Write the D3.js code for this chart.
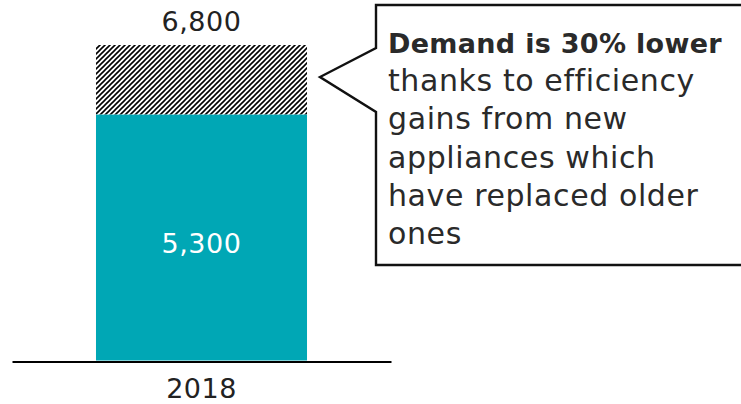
<!DOCTYPE html>
<html>
<head>
<meta charset="utf-8">
<script src="https://cdn.jsdelivr.net/npm/d3@7"></script>
<style>
  html, body { margin: 0; padding: 0; background: #fff; }
  svg { display: block; }
  text { font-family: "DejaVu Sans", sans-serif; fill: #222; }
</style>
</head>
<body>
<svg id="chart" width="741" height="404"></svg>
<script>
// Residential demand, 2018
const years = ["2018"];
const demandActual = [5300];        // demand with efficient appliances
const demandWithoutGains = [6800];  // demand had older appliances remained
const valueLabels = ["5,300"];
const totalLabels = ["6,800"];
const calloutBold = "Demand is 30% lower";
const calloutLines = ["thanks to efficiency", "gains from new", "appliances which", "have replaced older", "ones"];

const W = 741, H = 404;
const teal = "#00A7B5";
const svg = d3.select("#chart");

// Diagonal hatch for the avoided demand
const defs = svg.append("defs");
const pat = defs.append("pattern")
  .attr("id", "hatch")
  .attr("patternUnits", "userSpaceOnUse")
  .attr("width", 5).attr("height", 5);
pat.append("path")
  .attr("d", "M-1,1 L1,-1 M0,5 L5,0 M4,6 L6,4")
  .attr("stroke", "#000")
  .attr("stroke-width", 1.6);

const x = d3.scaleBand()
  .domain(years)
  .range([12, 391])
  .paddingInner(0)
  .paddingOuter(0.398);

const y = d3.scaleLinear()
  .domain([0, 6800])
  .range([360.5, 45]);

const rows = years.map((yr, i) => ({
  year: yr,
  actual: demandActual[i],
  total: demandWithoutGains[i],
  label: valueLabels[i],
  totalLabel: totalLabels[i]
}));

// Hatched portion: from actual up to the no-efficiency total
svg.selectAll("rect.gap")
  .data(rows).join("rect")
  .attr("class", "gap")
  .attr("x", d => x(d.year))
  .attr("width", x.bandwidth())
  .attr("y", d => y(d.total))
  .attr("height", d => y(d.actual) - y(d.total))
  .attr("fill", "url(#hatch)");

// Solid portion: actual demand
svg.selectAll("rect.actual")
  .data(rows).join("rect")
  .attr("class", "actual")
  .attr("x", d => x(d.year))
  .attr("width", x.bandwidth())
  .attr("y", d => y(d.actual))
  .attr("height", d => y(0) - y(d.actual))
  .attr("fill", teal);

// Value labels
svg.selectAll("text.inner")
  .data(rows).join("text")
  .attr("class", "inner")
  .attr("x", d => x(d.year) + x.bandwidth() / 2)
  .attr("y", d => (y(d.actual) + y(0)) / 2 + 15)
  .attr("text-anchor", "middle")
  .style("font-size", "27px")
  .style("letter-spacing", "0.5px")
  .style("fill", "#fff")
  .text(d => d.label);

svg.selectAll("text.total")
  .data(rows).join("text")
  .attr("class", "total")
  .attr("x", d => x(d.year) + x.bandwidth() / 2)
  .attr("y", 31)
  .attr("text-anchor", "middle")
  .style("font-size", "27px")
  .style("letter-spacing", "0.5px")
  .text(d => d.totalLabel);

// Category axis
const axis = svg.append("g")
  .attr("transform", `translate(0,${y(0) + 1})`)
  .call(d3.axisBottom(x).tickSize(0).tickSizeOuter(0).tickPadding(16));
axis.select(".domain").attr("stroke", "#000").attr("stroke-width", 2.2);
axis.selectAll(".tick text")
  .style("font-size", "27px")
  .style("letter-spacing", "0.5px")
  .style("font-family", "'DejaVu Sans', sans-serif")
  .attr("fill", "#222")
  .attr("dy", "0.75em");

// Callout box with pointer toward the hatched segment
const bx0 = 376, by0 = 5, bx1 = 760, by1 = 265;
const callout = d3.path();
callout.moveTo(bx0, by0);
callout.lineTo(bx1, by0);
callout.lineTo(bx1, by1);
callout.lineTo(bx0, by1);
callout.lineTo(bx0, 112);
callout.lineTo(320, 77);
callout.lineTo(bx0, 48);
callout.closePath();
svg.append("path")
  .attr("d", callout.toString())
  .attr("fill", "#fff")
  .attr("stroke", "#111")
  .attr("stroke-width", 2.4)
  .attr("stroke-linejoin", "miter");

const tx = 388;
svg.append("text")
  .attr("x", tx).attr("y", 53)
  .style("font-size", "27px")
  .style("font-weight", "bold")
  .style("letter-spacing", "0.3px")
  .style("fill", "#2a2a2a")
  .text(calloutBold);

svg.selectAll("text.cl")
  .data(calloutLines).join("text")
  .attr("class", "cl")
  .attr("x", tx)
  .attr("y", (d, i) => 91 + i * 38.3)
  .style("font-size", "30px")
  .style("letter-spacing", "0.6px")
  .style("fill", "#2a2a2a")
  .text(d => d);
</script>
</body>
</html>
